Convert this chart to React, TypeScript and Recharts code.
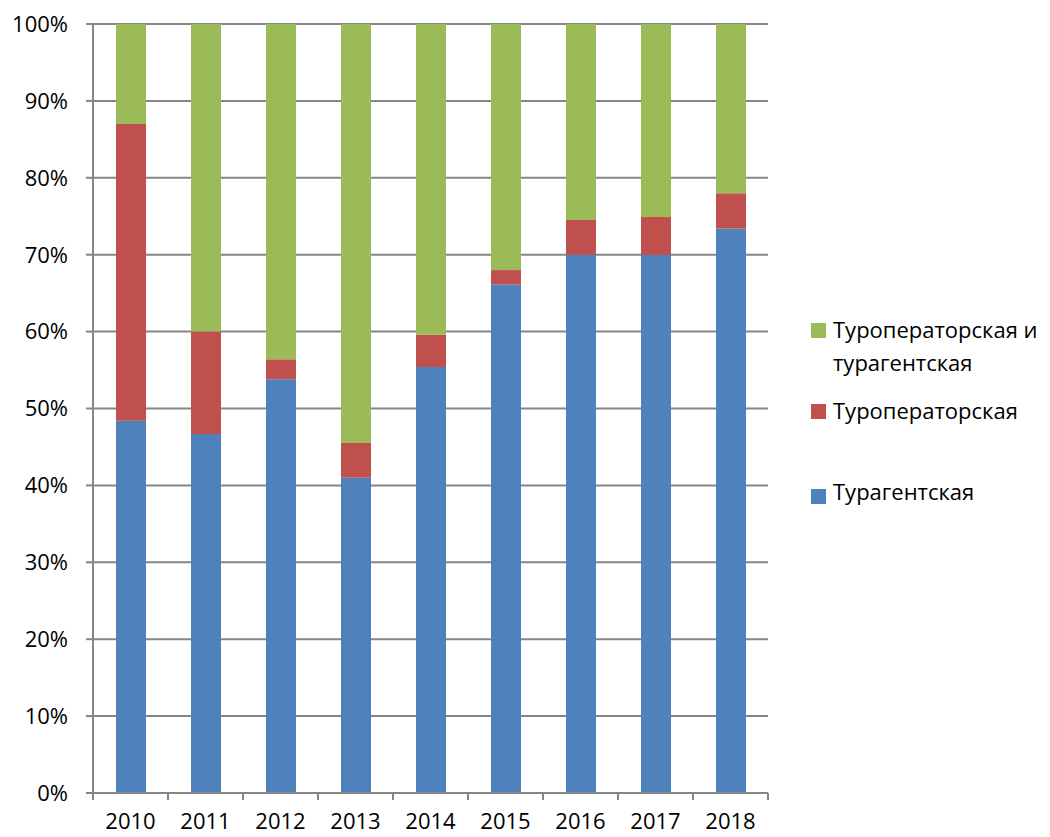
import React from 'react';
import { BarChart, Bar, XAxis, YAxis, CartesianGrid } from 'recharts';

const years = ['2010', '2011', '2012', '2013', '2014', '2015', '2016', '2017', '2018'];
const agency = [48.4, 46.7, 53.8, 41.0, 55.4, 66.1, 70.0, 70.0, 73.4];
const operator = [38.6, 13.3, 2.6, 4.5, 4.2, 1.9, 4.5, 4.9, 4.6];
const both = [13.0, 40.0, 43.6, 54.5, 40.4, 32.0, 25.5, 25.1, 22.0];
const yTicks = [0, 10, 20, 30, 40, 50, 60, 70, 80, 90, 100];

const seriesNames = {
  agency: 'Турагентская',
  operator: 'Туроператорская',
  both: 'Туроператорская и турагентская',
};

const data = years.map((y, i) => ({
  year: y,
  agency: agency[i],
  operator: operator[i],
  both: both[i],
}));

const W = 1050;
const H = 837;
const M = { top: 24, right: 282, bottom: 0, left: 0 };
const X_H = 44;
const Y_W = 93;
const PLOT_W = W - M.left - M.right - Y_W;
const BAND = PLOT_W / years.length;
const GRAY = '#868686';
const FONT = '"Open Sans", sans-serif';

const XTick = (props: any) => {
  const { x, y, payload, index } = props;
  const left = x - BAND / 2;
  const right = x + BAND / 2;
  return (
    <g>
      <line x1={left} y1={y} x2={left} y2={y + 7} stroke={GRAY} strokeWidth={2} />
      {index === years.length - 1 && (
        <line x1={right} y1={y} x2={right} y2={y + 7} stroke={GRAY} strokeWidth={2} />
      )}
      <text x={x} y={y + 36} textAnchor="middle" fill="#000" fontSize={22} fontFamily={FONT}>
        {payload.value}
      </text>
    </g>
  );
};

const LegendBox = () => {
  const items = [
    { color: '#9BBB59', lines: ['Туроператорская и', 'турагентская'], sq: 323, txt: 313 },
    { color: '#C0504D', lines: [seriesNames.operator], sq: 404, txt: 394 },
    { color: '#4F81BD', lines: [seriesNames.agency], sq: 489, txt: 475 },
  ];
  return (
    <>
      {items.map((it, i) => (
        <React.Fragment key={i}>
          <div
            style={{
              position: 'absolute',
              left: 811,
              top: it.sq,
              width: 15,
              height: 15,
              background: it.color,
            }}
          />
          <div
            style={{
              position: 'absolute',
              left: 833,
              top: it.txt,
              fontFamily: FONT,
              fontSize: 22,
              lineHeight: '33px',
              color: '#000',
              whiteSpace: 'nowrap',
            }}
          >
            {it.lines.map((l, j) => (
              <div key={j}>{l}</div>
            ))}
          </div>
        </React.Fragment>
      ))}
    </>
  );
};

export default function App() {
  return (
    <div style={{ position: 'absolute', left: 0, top: 0, width: W, height: H, background: '#fff' }}>
      <BarChart width={W} height={H} data={data} margin={M} barSize={30}>
        <CartesianGrid vertical={false} stroke={GRAY} strokeWidth={2} />
        <XAxis
          dataKey="year"
          axisLine={{ stroke: GRAY, strokeWidth: 2 }}
          tickLine={false}
          tickSize={0}
          tickMargin={0}
          tick={<XTick />}
          interval={0}
          height={X_H}
        />
        <YAxis
          width={Y_W}
          domain={[0, 100]}
          ticks={yTicks}
          tickFormatter={(v: number) => `${v}%`}
          axisLine={{ stroke: GRAY, strokeWidth: 2 }}
          tickLine={{ stroke: GRAY, strokeWidth: 2 }}
          tickSize={7}
          tickMargin={18}
          tick={{ fill: '#000', fontSize: 22, fontFamily: FONT }}
          interval={0}
        />
        <Bar dataKey="agency" name={seriesNames.agency} stackId="a" fill="#4F81BD" isAnimationActive={false} />
        <Bar dataKey="operator" name={seriesNames.operator} stackId="a" fill="#C0504D" isAnimationActive={false} />
        <Bar dataKey="both" name={seriesNames.both} stackId="a" fill="#9BBB59" isAnimationActive={false} />
      </BarChart>
      <LegendBox />
    </div>
  );
}
